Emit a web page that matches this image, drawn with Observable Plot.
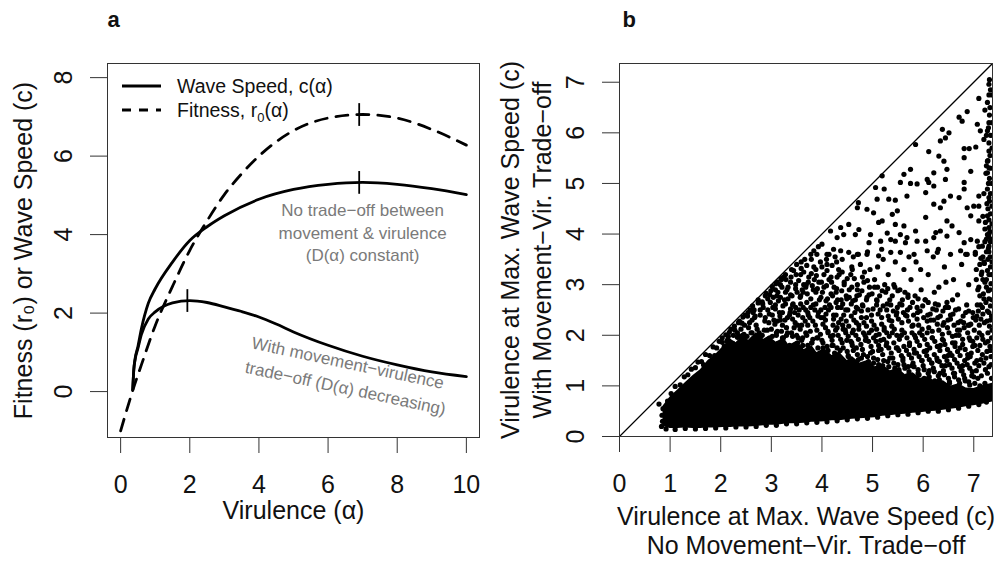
<!DOCTYPE html>
<html><head><meta charset="utf-8">
<script src="https://cdn.jsdelivr.net/npm/d3@7"></script>
<script src="https://cdn.jsdelivr.net/npm/@observablehq/plot@0.6"></script>
<style>
body{margin:0;background:#fff;}
#wrap{position:relative;width:1007px;height:562px;font-family:"Liberation Sans",Arial,sans-serif;background:#fff;overflow:hidden;}
#pa,#pb{position:absolute;top:0;}
#pa{left:0;} #pb{left:500px;}
#legend{position:absolute;left:0;top:0;pointer-events:none;}
</style></head>
<body><div id="wrap"><div id="pa"></div><div id="pb"></div>
<svg id="legend" width="420" height="130" font-family="Liberation Sans, Arial, sans-serif" font-size="19.5">
  <line x1="122" x2="161" y1="86" y2="86" stroke="#000" stroke-width="3"/>
  <line x1="122" x2="161" y1="110" y2="110" stroke="#000" stroke-width="3" stroke-dasharray="9,8"/>
  <text x="177" y="86" dy="0.35em" fill="#111">Wave Speed, c(α)</text>
  <text x="177" y="110" dy="0.35em" fill="#111">Fitness, r<tspan font-size="13" dy="5">0</tspan><tspan dy="-5">(α)</tspan></text>
</svg>
</div>
<script>
// ---------- Panel a: curves ----------
const alphaFit = [0, 0.17, 0.34, 0.6, 1, 1.5, 2, 2.5, 3, 3.5, 4, 5, 6, 7, 8, 9, 10];
const fitness  = [-1.0, -0.49, 0, 0.68, 1.68, 2.68, 3.6, 4.35, 5.02, 5.55, 6.0, 6.65, 6.97, 7.06, 6.97, 6.68, 6.28];

const alphaSpeed = [0.35, 0.38, 0.42, 0.5, 0.6, 0.8, 1, 1.5, 2, 2.5, 3, 4, 5, 6, 7, 8, 9, 10];
const speedNoTradeoff = [0.05, 0.55, 0.85, 1.15, 1.6, 2.25, 2.62, 3.3, 3.85, 4.2, 4.48, 4.9, 5.15, 5.28, 5.33, 5.28, 5.17, 5.02];

const alphaTrade = [0.35, 0.38, 0.42, 0.5, 0.6, 0.8, 1, 1.5, 2, 2.5, 3, 3.5, 4, 4.5, 5, 6, 7, 8, 9, 10];
const speedTradeoff = [0.05, 0.55, 0.82, 1.1, 1.45, 1.85, 2.03, 2.26, 2.32, 2.27, 2.16, 2.04, 1.9, 1.72, 1.52, 1.18, 0.9, 0.68, 0.5, 0.38];

const maxAlpha = [6.9, 6.9, 1.93];
const maxValue = [7.06, 5.33, 2.32];

const xTicksA = [0, 2, 4, 6, 8, 10];
const yTicksA = [0, 2, 4, 6, 8];

// ---------- Panel b: scatter ----------
const xTicksB = [0, 1, 2, 3, 4, 5, 6, 7];
const yTicksB = [0, 1, 2, 3, 4, 5, 6, 7];
const oneToOne = [0, 7.5];

// fully overlapping (solid black) part of the point cloud
const coreX    = [0.86, 1.0, 1.15, 1.3, 1.45, 1.6, 1.75, 1.9, 2.05, 2.2, 2.3, 2.45, 2.55, 2.7, 2.85, 2.95, 3.1, 3.25, 3.35, 3.5, 3.65, 3.8, 3.9, 4.05, 4.2, 4.35, 4.5, 4.6, 4.75, 4.9, 5.05, 5.2, 5.35, 5.5, 5.65, 5.8, 5.95, 6.1, 6.25, 6.4, 6.55, 6.7, 6.85, 7.0, 7.15, 7.37];
const coreLow  = [0.2, 0.16, 0.16, 0.17, 0.16, 0.16, 0.17, 0.17, 0.18, 0.18, 0.19, 0.19, 0.19, 0.2, 0.21, 0.22, 0.22, 0.24, 0.25, 0.25, 0.26, 0.28, 0.28, 0.29, 0.31, 0.31, 0.33, 0.34, 0.35, 0.36, 0.37, 0.4, 0.41, 0.43, 0.44, 0.46, 0.47, 0.49, 0.5, 0.52, 0.54, 0.56, 0.59, 0.61, 0.63, 0.68];
const coreHigh = [0.6, 0.78, 0.92, 1.06, 1.2, 1.32, 1.5, 1.62, 1.78, 1.92, 1.85, 2.0, 1.9, 2.05, 1.92, 1.98, 1.86, 1.95, 1.8, 1.88, 1.72, 1.8, 1.66, 1.74, 1.6, 1.66, 1.5, 1.58, 1.45, 1.5, 1.38, 1.42, 1.3, 1.35, 1.22, 1.26, 1.15, 1.18, 1.08, 1.1, 1.0, 1.04, 0.96, 0.95, 1.0, 1.05];

const edgePoints = [
 [0.92,0.15],[1.1,0.14],[1.3,0.16],[1.5,0.15],[1.7,0.16],[1.9,0.17],[2.1,0.17],[2.3,0.19],[2.5,0.19],[2.7,0.2],
 [2.9,0.22],[3.1,0.22],[3.3,0.25],[3.5,0.25],[3.7,0.27],[3.9,0.28],[4.1,0.29],[4.3,0.31],[4.5,0.33],[4.7,0.35],
 [4.9,0.36],[5.1,0.38],[5.3,0.41],[5.5,0.43],[5.7,0.44],[5.9,0.47],[6.1,0.5],[6.3,0.5],[6.5,0.53],[6.7,0.56],
 [6.9,0.6],[7.1,0.63],[7.25,0.68],[0.83,0.2],[0.85,0.3],[0.84,0.42],[0.86,0.55],[0.78,0.64],
 [0.95,0.7],[1.02,0.85],[1.1,0.99],[1.2,1.02],[1.28,1.18],[1.35,1.22],[1.42,1.33],[1.5,1.36]
];

const midPoints = [
 [1.55,1.47],[1.62,1.48],[1.7,1.62],[1.78,1.6],[1.85,1.77],[1.92,1.75],[1.97,1.88],[1.66,1.42],[1.88,1.6],
 [2.03,1.86],[2.1,2.01],[2.15,1.98],[2.2,2.12],[2.28,2.1],[2.35,2.25],[2.42,2.24],[2.48,2.4],[2.12,1.88],[2.25,2.0],
 [2.33,2.05],[2.4,2.12],[2.46,2.02],[2.38,1.98],
 [2.53,2.38],[2.58,2.5],[2.62,2.3],[2.66,2.5],[2.7,2.2],[2.74,2.64],[2.78,2.4],[2.82,2.66],[2.86,2.1],[2.9,2.83],
 [2.93,2.5],[2.97,2.8],[2.55,2.15],[2.6,2.05],[2.68,2.38],[2.76,2.05],[2.84,2.55],[2.95,2.25],[2.72,2.0],[2.88,2.35],[2.64,2.45],
 [3.02,2.96],[3.05,2.3],[3.08,2.6],[3.1,2.05],[3.13,2.85],[3.16,2.45],[3.2,3.1],[3.22,2.2],[3.26,2.7],[3.3,2.0],
 [3.33,2.95],[3.36,2.4],[3.4,3.3],[3.42,2.6],[3.45,2.15],[3.48,3.0],[3.12,3.05],[3.28,3.2],[3.38,2.8],[3.18,2.3],
 [3.46,2.45],[3.24,1.95],[3.5,3.4],[3.04,2.75],
 [3.53,1.95],[3.55,2.5],[3.58,3.2],[3.6,2.2],[3.63,2.85],[3.66,3.5],[3.68,2.05],[3.7,2.65],[3.73,3.05],[3.76,2.35],
 [3.78,3.6],[3.8,1.85],[3.83,2.9],[3.86,2.5],[3.88,3.3],[3.9,2.1],[3.93,3.75],[3.95,2.7],[3.98,2.35],[3.57,2.75],
 [3.64,3.0],[3.72,2.45],[3.85,3.1],[3.92,1.95],[3.97,3.45],[3.62,1.8],
 [4.02,1.75],[4.04,2.95],[4.07,2.3],[4.1,3.4],[4.12,2.05],[4.15,2.6],[4.18,3.15],[4.2,1.8],[4.23,2.4],[4.26,3.55],
 [4.28,2.85],[4.3,2.15],[4.33,3.3],[4.36,1.7],[4.38,2.7],[4.41,2.2],[4.44,3.0],[4.47,2.5],[4.49,1.9],[4.06,2.55],
 [4.14,3.6],[4.22,2.0],[4.31,2.55],[4.4,3.5],[4.46,2.1],[4.25,1.65],
 [4.52,1.6],[4.54,2.75],[4.57,3.2],[4.6,2.05],[4.62,3.55],[4.65,2.45],[4.68,1.75],[4.7,2.9],[4.73,2.2],[4.76,3.4],
 [4.78,1.55],[4.8,2.6],[4.83,3.05],[4.86,1.9],[4.88,2.35],[4.9,3.65],[4.93,2.8],[4.96,1.65],[4.98,2.1],[4.59,1.85],
 [4.72,3.6],[4.85,2.0],[4.95,3.3],[4.66,2.7],
 [5.02,1.45],[5.04,2.95],[5.07,2.0],[5.1,3.35],[5.12,1.7],[5.15,2.5],[5.18,3.7],[5.2,1.4],[5.23,2.15],[5.26,2.85],
 [5.28,1.85],[5.31,3.2],[5.34,1.55],[5.36,2.6],[5.39,2.05],[5.42,3.0],[5.44,1.35],[5.47,2.4],[5.49,1.75],[5.08,2.7],
 [5.21,3.5],[5.33,2.3],[5.45,3.45],[5.16,1.9],
 [5.52,1.3],[5.54,2.9],[5.57,2.0],[5.6,1.55],[5.62,3.3],[5.65,2.4],[5.68,1.2],[5.7,2.75],[5.73,1.8],[5.76,3.1],
 [5.78,1.4],[5.8,2.2],[5.83,1.65],[5.86,3.45],[5.88,2.55],[5.9,1.25],[5.93,2.05],[5.96,2.9],[5.98,1.5],[5.58,2.6],
 [5.72,3.55],[5.85,1.95],[5.95,3.3],[5.64,1.35],
 [6.02,1.15],[6.04,2.7],[6.07,1.7],[6.1,3.2],[6.12,1.3],[6.15,2.3],[6.18,1.95],[6.2,3.55],[6.23,1.1],[6.26,2.5],
 [6.28,1.5],[6.31,2.95],[6.34,1.8],[6.36,1.05],[6.39,2.2],[6.42,3.35],[6.44,1.4],[6.47,2.65],[6.49,1.6],[6.08,2.05],
 [6.22,2.85],[6.33,1.25],[6.45,3.05],[6.17,1.45],[6.3,3.7],[6.4,1.9],
 [6.52,1.05],[6.54,2.4],[6.57,1.6],[6.6,3.1],[6.62,1.25],[6.65,2.0],[6.68,2.8],[6.7,1.0],[6.73,1.75],[6.76,3.4],
 [6.78,1.4],[6.8,2.25],[6.83,1.1],[6.86,2.6],[6.88,1.55],[6.9,3.0],[6.93,1.9],[6.96,1.2],[6.98,2.45],[6.58,2.7],
 [6.72,2.1],[6.84,3.6],[6.95,1.65],[6.63,1.85],[6.75,1.3],[6.91,2.2],
 [7.02,1.05],[7.04,2.3],[7.06,1.5],[7.08,2.9],[7.05,3.3],[7.12,3.4],[7.2,3.45],[7.28,3.5],[7.33,3.35],[7.15,3.2],
 [7.25,3.1],[7.32,2.9],[7.02,1.8],[7.07,2.6],[7.03,3.6],[7.18,3.55],[7.3,3.65]
];

// denser layers of the cloud just above the solid part
const bandPoints = [
 [2.03,1.95],[2.07,1.78],[2.14,1.92],[2.17,2.06],[2.24,1.84],[2.27,2.18],[2.33,1.96],[2.37,2.28],[2.36,1.76],
 [2.43,2.0],[2.47,2.2],[2.44,2.36],[2.52,1.98],[2.57,2.25],[2.54,2.45],[2.62,2.05],[2.67,2.35],[2.63,2.58],[2.68,1.82],
 [2.72,2.12],[2.78,2.5],[2.74,2.7],[2.79,1.98],[2.82,2.0],[2.87,2.28],[2.83,2.62],[2.88,2.78],[2.92,2.1],[2.96,2.42],
 [2.93,2.72],[2.97,1.95],[3.02,1.98],[3.07,2.22],[3.03,2.55],[3.08,2.9],[3.12,2.08],[3.17,2.38],[3.14,2.68],[3.18,3.0],
 [3.13,1.84],[3.22,1.95],[3.27,2.3],[3.23,2.58],[3.28,2.85],[3.24,3.15],[3.32,2.05],[3.37,2.45],[3.33,2.72],[3.38,3.05],
 [3.36,1.8],[3.42,1.98],[3.47,2.25],[3.43,2.62],[3.48,2.92],[3.44,3.28],[3.52,1.85],[3.57,2.12],[3.53,2.4],[3.58,2.78],
 [3.54,3.08],[3.59,3.45],[3.62,1.95],[3.67,2.28],[3.63,2.55],[3.68,2.95],[3.64,3.25],[3.72,1.8],[3.77,2.08],[3.73,2.4],
 [3.78,2.72],[3.74,3.15],[3.79,3.5],[3.82,1.92],[3.87,2.2],[3.83,2.6],[3.88,2.85],[3.84,3.35],[3.92,1.75],[3.97,2.02],
 [3.93,2.45],[3.98,2.75],[3.94,3.05],[4.02,1.85],[4.07,2.15],[4.03,2.35],[4.08,2.68],[4.04,3.2],[4.09,3.5],[4.12,1.7],
 [4.17,1.98],[4.13,2.5],[4.18,2.82],[4.14,3.1],[4.22,1.8],[4.27,2.1],[4.23,2.32],[4.28,2.65],[4.24,2.95],[4.29,3.45],
 [4.32,1.62],[4.37,1.92],[4.33,2.25],[4.38,2.55],[4.34,3.2],[4.42,1.75],[4.47,2.05],[4.43,2.4],[4.48,2.78],[4.44,3.05],
 [4.52,1.58],[4.57,1.88],[4.53,2.18],[4.58,2.62],[4.54,2.9],[4.59,3.35],[4.62,1.7],[4.67,2.0],[4.63,2.3],[4.68,2.55],
 [4.64,3.12],[4.72,1.52],[4.77,1.82],[4.73,2.12],[4.78,2.48],[4.74,2.8],[4.82,1.62],[4.87,1.95],[4.83,2.25],[4.88,2.7],
 [4.84,3.25],[4.92,1.48],[4.97,1.78],[4.93,2.05],[4.98,2.4],[4.94,2.95],[5.02,1.55],[5.07,1.88],[5.03,2.2],[5.08,2.6],
 [5.04,3.1],[5.12,1.42],[5.17,1.72],[5.13,2.02],[5.18,2.35],[5.14,2.78],[5.22,1.5],[5.27,1.8],[5.23,2.1],[5.28,2.5],
 [5.24,3.0],[5.32,1.38],[5.37,1.65],[5.33,1.98],[5.38,2.28],[5.34,2.7],[5.42,1.45],[5.47,1.75],[5.43,2.12],[5.48,2.45],
 [5.44,2.95],[5.52,1.32],[5.57,1.6],[5.53,1.92],[5.58,2.25],[5.54,2.62],[5.62,1.42],[5.67,1.7],[5.63,2.05],[5.68,2.38],
 [5.64,2.85],[5.72,1.28],[5.77,1.55],[5.73,1.85],[5.78,2.18],[5.74,2.55],[5.82,1.38],[5.87,1.65],[5.83,2.0],[5.88,2.32],
 [5.84,2.78],[5.92,1.22],[5.97,1.5],[5.93,1.8],[5.98,2.12],[5.94,2.48],[6.02,1.32],[6.07,1.6],[6.03,1.92],[6.08,2.28],
 [6.04,2.7],[6.12,1.18],[6.17,1.45],[6.13,1.75],[6.18,2.08],[6.14,2.42],[6.22,1.28],[6.27,1.55],[6.23,1.88],[6.28,2.22],
 [6.24,2.62],[6.32,1.12],[6.37,1.4],[6.33,1.7],[6.38,2.02],[6.34,2.38],[6.42,1.22],[6.47,1.5],[6.43,1.82],[6.48,2.15],
 [6.44,2.55],[6.52,1.08],[6.57,1.35],[6.53,1.65],[6.58,1.98],[6.54,2.32],[6.62,1.18],[6.67,1.45],[6.63,1.78],[6.68,2.1],
 [6.64,2.5],[6.72,1.05],[6.77,1.3],[6.73,1.6],[6.78,1.92],[6.74,2.28],[6.82,1.15],[6.87,1.42],[6.83,1.72],[6.88,2.05],
 [6.84,2.45],[6.92,1.02],[6.97,1.28],[6.93,1.58],[6.98,1.88],[6.94,2.22]
];

const fillPoints = [
 [3.0,2.12],[3.02,2.4],[2.98,2.65],[2.99,2.88],
 [3.1,2.0],[3.12,2.28],[3.08,2.52],[3.11,2.78],[3.09,3.02],
 [3.2,2.08],[3.22,2.45],[3.18,2.75],[3.21,2.95],[3.19,3.12],
 [3.3,2.15],[3.32,2.35],[3.28,2.62],[3.31,2.9],[3.29,3.1],
 [3.4,2.05],[3.42,2.32],[3.38,2.52],[3.41,2.78],[3.39,3.15],
 [3.5,2.0],[3.52,2.2],[3.48,2.55],[3.51,2.85],[3.49,3.2],
 [3.6,1.9],[3.62,2.35],[3.58,2.62],[3.61,2.9],[3.59,3.32],
 [3.7,2.0],[3.72,2.2],[3.68,2.5],[3.71,2.82],[3.69,3.0],[3.7,3.38],
 [3.8,1.85],[3.82,2.28],[3.78,2.55],[3.81,2.98],[3.79,3.22],
 [3.9,1.95],[3.92,2.38],[3.88,2.62],[3.91,2.92],[3.89,3.18],[3.9,3.6],
 [4.0,1.9],[4.02,2.22],[3.98,2.5],[4.01,2.85],[3.99,3.05],[4.0,3.35],
 [4.1,1.78],[4.12,2.08],[4.08,2.42],[4.11,2.72],[4.09,2.98],[4.1,3.28],
 [4.2,1.9],[4.22,2.2],[4.18,2.55],[4.21,2.78],[4.19,3.05],[4.2,3.38],
 [4.3,1.75],[4.32,2.0],[4.28,2.4],[4.31,2.7],[4.29,2.92],[4.3,3.15],
 [4.4,1.85],[4.42,2.12],[4.38,2.32],[4.41,2.62],[4.39,2.88],[4.4,3.25],
 [4.5,1.68],[4.52,1.98],[4.48,2.28],[4.51,2.5],[4.49,2.72],[4.5,3.12],
 [4.6,1.8],[4.62,2.1],[4.58,2.38],[4.61,2.68],[4.59,2.95],[4.6,3.3],
 [4.7,1.62],[4.72,1.92],[4.68,2.25],[4.71,2.52],[4.69,2.78],[4.7,3.0],
 [4.8,1.72],[4.82,2.05],[4.78,2.35],[4.81,2.58],[4.79,2.88],[4.8,3.15],
 [4.9,1.58],[4.92,1.88],[4.88,2.18],[4.91,2.5],[4.89,2.75],[4.9,3.08],
 [5.0,1.68],[5.02,1.95],[4.98,2.28],[5.01,2.52],[4.99,2.82],
 [5.1,1.52],[5.12,1.8],[5.08,2.12],[5.11,2.42],[5.09,2.68],[5.1,2.95],
 [5.2,1.62],[5.22,1.92],[5.18,2.22],[5.21,2.58],[5.19,2.88],
 [5.3,1.48],[5.32,1.75],[5.28,2.05],[5.31,2.38],[5.29,2.62],[5.3,2.92],
 [5.4,1.55],[5.42,1.85],[5.38,2.18],[5.41,2.48],[5.39,2.78],
 [5.5,1.42],[5.52,1.7],[5.48,2.0],[5.51,2.32],[5.49,2.55],[5.5,2.88],
 [5.6,1.5],[5.62,1.78],[5.58,2.1],[5.61,2.45],[5.59,2.7],
 [5.7,1.38],[5.72,1.62],[5.68,1.95],[5.71,2.28],[5.69,2.5],[5.7,2.8],
 [5.8,1.45],[5.82,1.72],[5.78,2.05],[5.81,2.4],[5.79,2.65],
 [5.9,1.32],[5.92,1.58],[5.88,1.88],[5.91,2.2],[5.89,2.45],[5.9,2.72],
 [6.0,1.4],[6.02,1.68],[5.98,2.0],[6.01,2.35],[5.99,2.58],
 [6.1,1.25],[6.12,1.52],[6.08,1.82],[6.11,2.15],[6.09,2.4],[6.1,2.65],
 [6.2,1.35],[6.22,1.62],[6.18,1.95],[6.21,2.3],[6.19,2.52],
 [6.3,1.2],[6.32,1.48],[6.28,1.78],[6.31,2.1],[6.29,2.35],[6.3,2.6],
 [6.4,1.3],[6.42,1.58],[6.38,1.92],[6.41,2.25],[6.39,2.48],
 [6.5,1.15],[6.52,1.42],[6.48,1.72],[6.51,2.05],[6.49,2.3],[6.5,2.55],
 [6.6,1.25],[6.62,1.52],[6.58,1.85],[6.61,2.2],[6.59,2.42],
 [6.7,1.12],[6.72,1.38],[6.68,1.68],[6.71,2.0],[6.69,2.25],[6.7,2.52],
 [6.8,1.22],[6.82,1.5],[6.78,1.82],[6.81,2.15],[6.79,2.38],
 [6.9,1.08],[6.92,1.35],[6.88,1.62],[6.91,1.95],[6.89,2.2],[6.9,2.48],
 [7.0,1.18],[7.02,1.45],[6.98,1.78],[7.01,2.1],[6.99,2.35]
];

// dense column of points along the right edge
const rightPoints = [
 [7.12,1.0],[7.22,1.05],[7.32,0.95],[7.15,1.2],[7.27,1.25],[7.35,1.15],[7.1,1.4],[7.2,1.45],[7.3,1.38],[7.17,1.62],
 [7.26,1.68],[7.34,1.58],[7.12,1.8],[7.23,1.85],[7.32,1.78],[7.16,2.0],[7.28,2.05],[7.35,1.95],[7.11,2.2],[7.21,2.25],
 [7.31,2.18],[7.18,2.42],[7.27,2.48],[7.35,2.38],[7.13,2.6],[7.24,2.65],[7.33,2.58],[7.19,2.82],[7.29,2.88],[7.1,2.95],
 [7.22,3.05],[7.34,3.02],[7.16,3.25],[7.27,3.28],[7.35,3.2],[7.21,3.42],[7.32,3.55],[7.29,3.72],[7.34,1.42],[7.25,0.92],
 [7.08,1.15],[7.3,2.72],[7.06,1.95],[7.14,2.32],[7.24,1.55],[7.09,2.48],[7.33,2.3],[7.2,2.72],
 [7.05,1.3],[7.14,1.52],[7.23,1.32],[7.33,1.7],[7.08,1.7],[7.18,1.92],[7.28,1.88],[7.36,2.1],[7.11,2.05],[7.26,2.28],
 [7.06,2.38],[7.17,2.55],[7.3,2.45],[7.36,2.7],[7.12,2.78],[7.25,2.95],[7.05,3.1],[7.18,3.1],[7.3,3.2],[7.36,3.45],
 [7.14,3.52],[7.25,3.65],[7.35,3.9],[7.1,3.75],[7.22,3.85],[7.3,4.0],[7.36,4.2],[7.18,4.35],[7.36,4.55],[7.2,4.8],
 [7.36,5.0],[7.25,5.35],[7.36,5.7],[7.25,5.95],[7.36,6.2],[7.22,6.45],[7.36,6.75]
];

const upperPoints = [
 [7.30,6.96],[7.10,6.68],[7.27,6.60],[6.87,6.42],[6.71,6.31],[6.77,6.23],[7.30,6.20],[7.07,6.17],[7.13,6.04],[6.38,6.07],
 [6.51,6.00],[6.34,5.84],[6.44,5.90],[7.27,6.04],[7.20,5.87],[7.30,5.64],[7.04,5.72],[6.91,5.69],[6.81,5.69],[6.81,5.51],
 [6.11,5.63],[5.85,5.77],[6.31,5.54],[6.41,5.44],[7.27,5.44],[7.30,5.31],[7.27,5.21],[6.94,5.24],[6.21,5.21],[6.47,5.28],
 [5.75,5.28],[5.62,5.18],[5.55,5.02],[5.75,5.00],[5.88,4.99],[6.08,5.08],[6.11,5.02],[6.21,4.95],[6.44,5.08],[6.81,5.02],
 [6.81,4.89],[7.27,4.89],[7.10,4.75],[7.30,4.72],[5.19,5.15],[5.06,4.92],[5.23,4.89],[5.09,4.69],[5.32,4.69],[5.45,4.67],
 [5.68,4.75],[6.05,4.82],[6.21,4.59],[6.41,4.65],[6.34,4.52],[6.54,4.75],[6.71,4.72],[6.87,4.52],[7.00,4.55],[7.10,4.55],
 [6.94,4.36],[7.27,4.36],[7.10,4.26],[7.23,4.23],[7.30,4.13],[6.05,4.33],[6.47,4.26],[6.57,4.16],[6.34,4.06],[6.21,3.93],
 [6.05,3.86],[5.88,3.86],[4.70,4.52],[4.89,4.49],[5.02,4.42],[4.72,4.62],[5.49,4.46],[5.39,4.39],[5.12,4.23],[5.19,4.26],
 [5.45,4.19],[5.62,4.16],[5.55,3.99],[5.68,3.93],[5.29,4.02],[5.36,3.89],[5.45,3.86],[5.65,3.83],[5.85,4.06],[6.25,4.03],
 [6.47,3.96],[6.71,4.03],[6.81,3.83],[6.94,3.89],[7.07,3.86],[7.27,3.99],[7.30,3.76],[7.17,3.76],[4.37,4.13],[4.53,4.19],
 [4.17,4.06],[4.30,3.93],[4.43,3.99],[4.66,3.99],[4.73,4.09],[4.96,3.99],[4.93,3.83],[5.16,3.86],[4.00,3.80],[3.84,3.67],
 [4.10,3.60],[4.23,3.70],[4.37,3.67],[4.53,3.64],[4.70,3.60],[4.89,3.60],[5.12,3.57],[5.36,3.64],[5.55,3.64],[5.82,3.60],
 [6.08,3.67],[6.28,3.64],[6.54,3.60],[6.74,3.67],[6.87,3.60],[7.03,3.64],
 [7.31,7.05],[7.33,6.85],[7.3,6.75],[7.32,6.5],[7.31,6.35],[7.29,6.1],[7.33,5.95],[7.3,5.8],[7.32,5.55],[7.28,5.45],
 [7.33,5.3],[7.31,5.1],[7.29,5.0],[7.33,4.8],[7.31,4.65],[7.28,4.5],[7.33,4.4],[7.3,4.28],[7.32,4.05],[7.29,3.95],
 [7.33,3.85],[7.26,4.6],[7.24,5.2],[7.25,3.9],[7.22,4.1]
];

// ---------- build tables ----------
const fitRows   = alphaFit.map((a, i) => ({a, v: fitness[i]}));
const noTrRows  = alphaSpeed.map((a, i) => ({a, v: speedNoTradeoff[i]}));
const trRows    = alphaTrade.map((a, i) => ({a, v: speedTradeoff[i]}));
const maxRows   = maxAlpha.map((a, i) => ({a, v: maxValue[i]}));
const coreRows  = coreX.map((x, i) => ({x, lo: coreLow[i], hi: coreHigh[i]}));
const allPoints = [...edgePoints, ...midPoints, ...bandPoints, ...fillPoints, ...rightPoints, ...upperPoints];

const FONT = "Liberation Sans, Arial, sans-serif";
const AX = "#333";
const TXT = "#111";
const mid = {textAnchor: "middle", lineAnchor: "middle"};

const panelA = Plot.plot({
  width: 500, height: 562,
  marginLeft: 107, marginRight: 21, marginTop: 63, marginBottom: 125,
  x: {domain: [-0.38, 10.38]},
  y: {domain: [-1.17, 8.36]},
  style: {fontFamily: FONT, fontSize: "25px", background: "transparent", overflow: "visible"},
  marks: [
    Plot.axisX({ticks: xTicksA, tickSize: 16, fill: "none", label: null, stroke: AX}),
    Plot.axisY({ticks: yTicksA, tickSize: 17, fill: "none", label: null, stroke: AX}),
    Plot.text(xTicksA, {...mid, x: d => d, text: d => String(d), frameAnchor: "bottom", dy: 47, fontSize: 25, fill: TXT}),
    Plot.text(yTicksA, {...mid, y: d => d, text: d => String(d), frameAnchor: "left", dx: -44, rotate: -90, fontSize: 25, fill: TXT}),
    Plot.text(["Virulence (α)"], {...mid, text: d => d, frameAnchor: "bottom", dy: 73, fontSize: 25, fill: TXT}),
    Plot.text(["Fitness (r₀) or Wave Speed (c)"], {...mid, text: d => d, frameAnchor: "left", dx: -84, rotate: -90, fontSize: 25, fill: TXT}),
    Plot.text(["a"], {text: d => d, frameAnchor: "top-left", textAnchor: "start", lineAnchor: "middle", dx: 0, dy: -44, fontSize: 22, fontWeight: "bold", fill: TXT}),
    Plot.line(fitRows, {x: "a", y: "v", curve: "monotone-x", stroke: "#000", strokeWidth: 2.8, strokeDasharray: "12,9"}),
    Plot.line(noTrRows, {x: "a", y: "v", curve: "monotone-x", stroke: "#000", strokeWidth: 2.8}),
    Plot.line(trRows, {x: "a", y: "v", curve: "monotone-x", stroke: "#000", strokeWidth: 2.8}),
    Plot.link(maxRows, {x1: "a", x2: "a", y1: d => d.v - 0.29, y2: d => d.v + 0.29, stroke: "#000", strokeWidth: 1.8}),
    Plot.text(["No trade−off between\nmovement & virulence\n(D(α) constant)"], {text: d => d, x: 7.0, y: 4.08, fontSize: 17, lineHeight: 1.32, fill: "#7a7a7a"}),
    Plot.text(["With movement−virulence"], {text: d => d, x: 6.57, y: 0.72, rotate: 12, fontSize: 17, fill: "#7a7a7a"}),
    Plot.text(["trade−off (D(α) decreasing)"], {text: d => d, x: 6.5, y: 0.08, rotate: 12, fontSize: 17, fill: "#7a7a7a"}),
    Plot.frame({stroke: AX})
  ]
});
document.getElementById("pa").append(panelA);

const panelB = Plot.plot({
  width: 507, height: 562,
  marginLeft: 119, marginRight: 15, marginTop: 63, marginBottom: 126,
  x: {domain: [0, 7.37]},
  y: {domain: [0, 7.37]},
  style: {fontFamily: FONT, fontSize: "25px", background: "transparent", overflow: "visible"},
  marks: [
    Plot.axisX({ticks: xTicksB, tickSize: 16, fill: "none", label: null, stroke: AX}),
    Plot.axisY({ticks: yTicksB, tickSize: 17, fill: "none", label: null, stroke: AX}),
    Plot.text(xTicksB, {...mid, x: d => d, text: d => String(d), frameAnchor: "bottom", dy: 47, fontSize: 25, fill: TXT}),
    Plot.text(yTicksB, {...mid, y: d => d, text: d => String(d), frameAnchor: "left", dx: -44, rotate: -90, fontSize: 25, fill: TXT}),
    Plot.text(["Virulence at Max. Wave Speed (c)"], {...mid, text: d => d, frameAnchor: "bottom", dy: 80, fontSize: 25, fill: TXT}),
    Plot.text(["No Movement−Vir. Trade−off"], {...mid, text: d => d, frameAnchor: "bottom", dy: 109, fontSize: 25, fill: TXT}),
    Plot.text(["Virulence at Max. Wave Speed (c)"], {...mid, text: d => d, frameAnchor: "left", dx: -109, rotate: -90, fontSize: 25, fill: TXT}),
    Plot.text(["With Movement−Vir. Trade−off"], {...mid, text: d => d, frameAnchor: "left", dx: -77, rotate: -90, fontSize: 25, fill: TXT}),
    Plot.text(["b"], {text: d => d, frameAnchor: "top-left", textAnchor: "start", lineAnchor: "middle", dx: 3, dy: -44, fontSize: 22, fontWeight: "bold", fill: TXT}),
    Plot.areaY(coreRows, {x: "x", y1: "lo", y2: "hi", curve: "linear", fill: "#000", clip: true}),
    Plot.dot(allPoints, {x: d => d[0], y: d => d[1], r: 2.6, fill: "#000", stroke: "none", clip: true}),
    Plot.line(oneToOne, {x: d => d, y: d => d, stroke: "#000", strokeWidth: 1.3, clip: true}),
    Plot.frame({stroke: AX})
  ]
});
document.getElementById("pb").append(panelB);
</script>
</body></html>
